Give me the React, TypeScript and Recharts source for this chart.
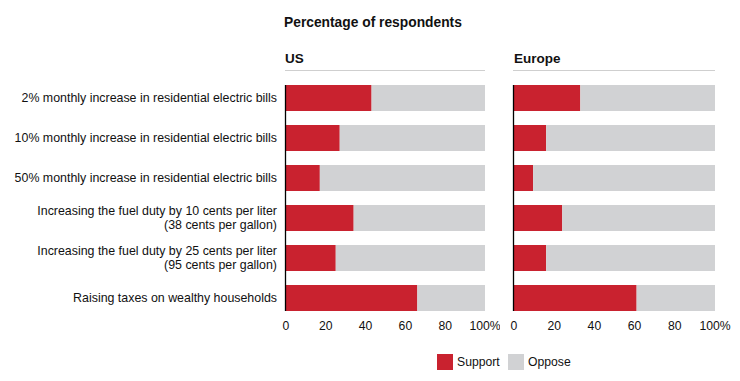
import React from "react";
import { BarChart, Bar, XAxis, YAxis } from "recharts";

const categories = [
  "2% monthly increase in residential electric bills",
  "10% monthly increase in residential electric bills",
  "50% monthly increase in residential electric bills",
  "Increasing the fuel duty by 10 cents per liter\n(38 cents per gallon)",
  "Increasing the fuel duty by 25 cents per liter\n(95 cents per gallon)",
  "Raising taxes on wealthy households",
];
const usSupport = [43, 27, 17, 34, 25, 66];
const usOppose = [57, 73, 83, 66, 75, 34];
const euSupport = [33, 16, 9.5, 24, 16, 61];
const euOppose = [67, 84, 90.5, 76, 84, 39];
const xTicks = [0, 20, 40, 60, 80, 100];
const panelTitles = ["US", "Europe"];
const legendLabels = ["Support", "Oppose"];

const RED = "#C9222F";
const GRAY = "#D1D2D4";
const FONT = "'Liberation Sans', Arial, sans-serif";

const usData = categories.map((name, i) => ({ name, support: usSupport[i], oppose: usOppose[i] }));
const euData = categories.map((name, i) => ({ name, support: euSupport[i], oppose: euOppose[i] }));

const CategoryTick = (props: any) => {
  const { x, y, payload } = props;
  const lines = String(payload.value).split("\n");
  const lh = 14;
  const start = -((lines.length - 1) * lh) / 2;
  return (
    <text x={x} y={y} textAnchor="end" fill="#111" fontSize={12.4} fontFamily={FONT}>
      {lines.map((l, i) => (
        <tspan key={i} x={x} dy={i === 0 ? start + 4 : lh}>
          {l}
        </tspan>
      ))}
    </text>
  );
};

const makeSupportShape = (count: number) => (props: any) => {
  const { x, y, width, height, index } = props;
  const half = 7;
  const top = index === 0 ? y : y - half;
  const bottom = index === count - 1 ? y + height : y + height + half;
  return (
    <g>
      <rect x={x} y={y} width={Math.max(width, 0)} height={height} fill={RED} />
      <line x1={x - 0.5} x2={x - 0.5} y1={top} y2={bottom} stroke="#000" strokeWidth={1.3} />
    </g>
  );
};

const xFmt = (v: number) => (v === 100 ? "100%" : String(v));

const Panel = ({ data, showLabels, width, left, right }: any) => (
  <BarChart
    width={width}
    height={345}
    data={data}
    layout="vertical"
    margin={{ top: 78, right, left, bottom: 0 }}
    barSize={26}
  >
    <XAxis
      type="number"
      domain={[0, 100]}
      ticks={xTicks}
      tickFormatter={xFmt}
      axisLine={false}
      tickLine={false}
      tickSize={3}
      tickMargin={0}
      tick={{ fill: "#111", fontSize: 12.2, fontFamily: FONT }}
      height={27}
      interval={0}
    />
    <YAxis
      type="category"
      dataKey="name"
      hide={!showLabels}
      width={showLabels ? 286 : 0}
      axisLine={false}
      tickLine={false}
      tickMargin={3}
      tick={<CategoryTick />}
      interval={0}
    />
    <Bar dataKey="support" stackId="a" fill={RED} isAnimationActive={false} shape={makeSupportShape(data.length)} />
    <Bar dataKey="oppose" stackId="a" fill={GRAY} isAnimationActive={false} />
  </BarChart>
);

export default function App() {
  return (
    <div style={{ position: "absolute", left: 0, top: 0, width: 740, height: 381, background: "#fff", fontFamily: FONT }}>
      <div style={{ position: "absolute", left: 0, top: 0 }}>
        <Panel data={usData} showLabels width={500} left={0} right={15} />
      </div>
      <div style={{ position: "absolute", left: 505, top: 0 }}>
        <Panel data={euData} showLabels={false} width={230} left={9} right={20} />
      </div>
      <svg width={740} height={381} style={{ position: "absolute", left: 0, top: 0, pointerEvents: "none" }}>
        <text x={284} y={27} fontSize={13.8} fontWeight="bold" fill="#111" fontFamily={FONT}>
          Percentage of respondents
        </text>
        <text x={285} y={63} fontSize={13.5} fontWeight="bold" fill="#111" fontFamily={FONT}>
          {panelTitles[0]}
        </text>
        <text x={514} y={63} fontSize={13.5} fontWeight="bold" fill="#111" fontFamily={FONT}>
          {panelTitles[1]}
        </text>
        <line x1={285} x2={485} y1={70.5} y2={70.5} stroke="#CFCFCF" strokeWidth={1} />
        <line x1={513} x2={715} y1={70.5} y2={70.5} stroke="#CFCFCF" strokeWidth={1} />
        <rect x={437} y={354} width={16} height={16} fill={RED} />
        <text x={457} y={366} fontSize={12.2} fill="#111" fontFamily={FONT}>
          {legendLabels[0]}
        </text>
        <rect x={508} y={354} width={16} height={16} fill={GRAY} />
        <text x={528} y={366} fontSize={12.2} fill="#111" fontFamily={FONT}>
          {legendLabels[1]}
        </text>
      </svg>
    </div>
  );
}
